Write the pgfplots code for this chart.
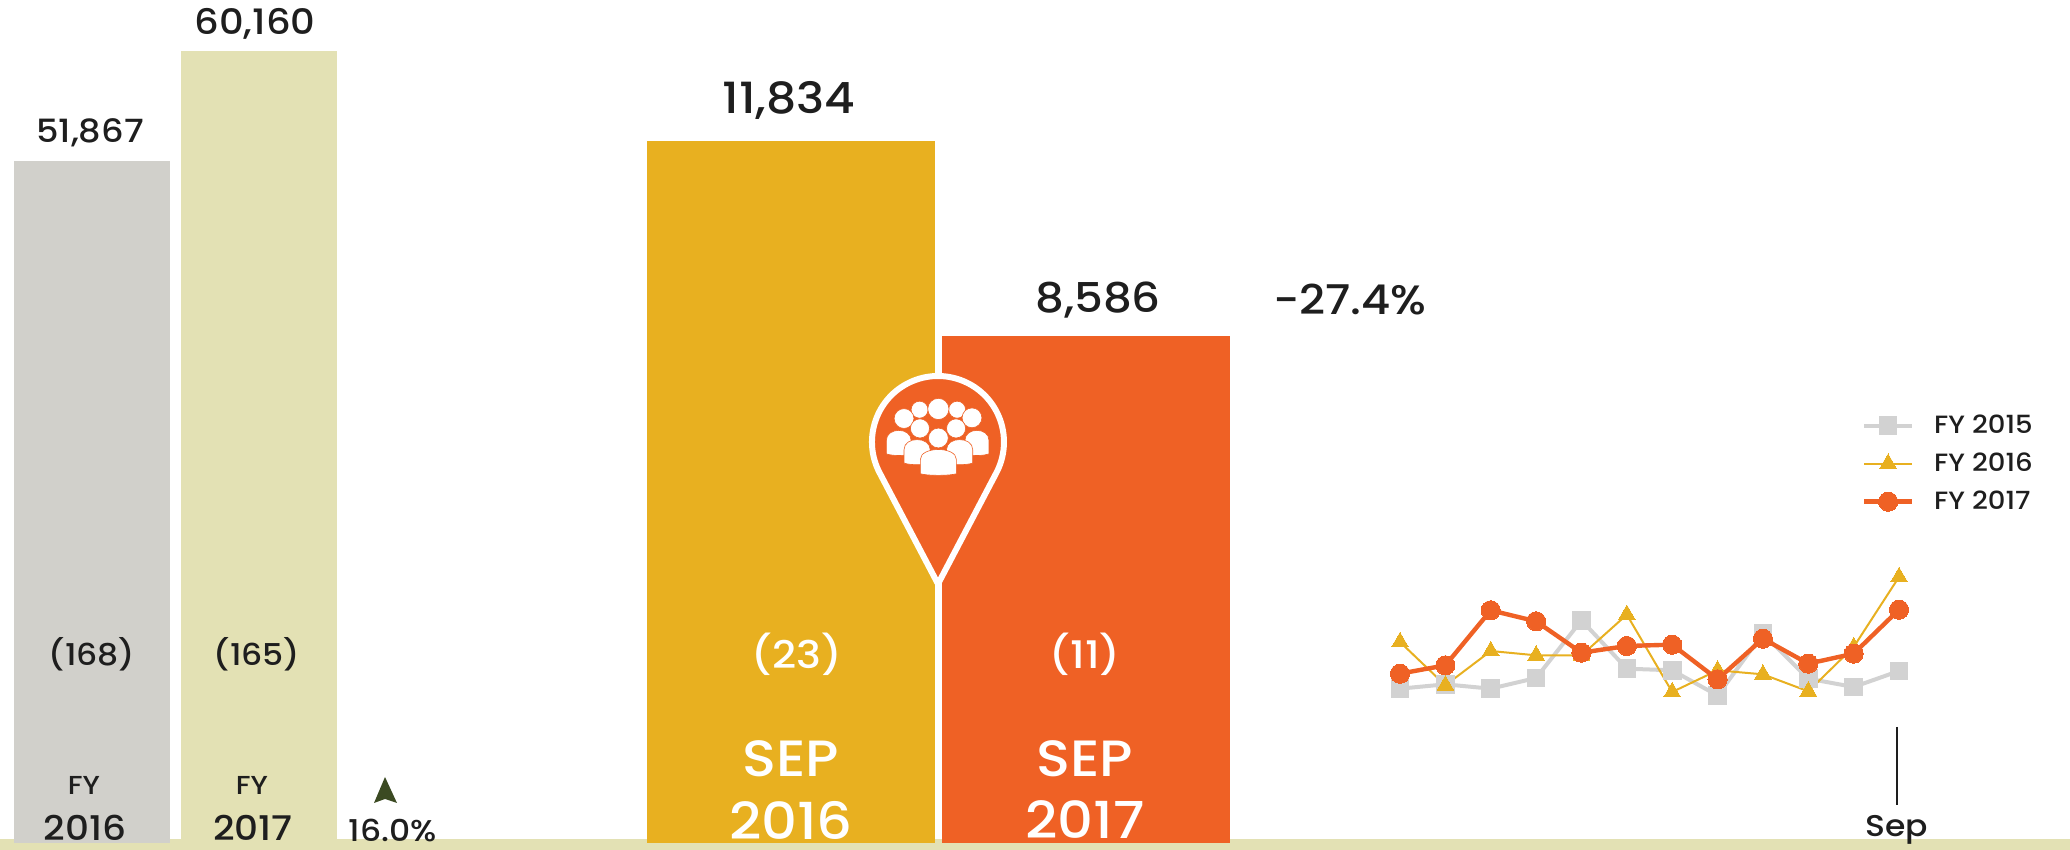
\documentclass[border=0pt]{standalone}
\usepackage{pgfplots}
\pgfplotsset{compat=1.18}
\usepackage{fontspec}
\setmainfont{Poppins}[UprightFont=* Medium,FakeStretch=1.1]
\definecolor{cgray}{HTML}{D1D0CB}
\definecolor{cpale}{HTML}{E3E1B4}
\definecolor{cgold}{HTML}{E8B020}
\definecolor{corange}{HTML}{EF6125}
\definecolor{clgray}{HTML}{D2D2D2}
\definecolor{ctext}{HTML}{1E1E1E}
\pgfplotsset{base/.style={scale only axis,hide axis,clip=false,ymin=0}}
\newcommand{\T}[4]{\node[text=#4,inner sep=0pt,anchor=center] at (#1,850-#2) {#3};}
\begin{document}
\begin{tikzpicture}[x=0.5pt,y=0.5pt]
\path[use as bounding box] (0,0) rectangle (2070,850);
\fill[cpale] (0,0) rectangle (2070,11);
% FY totals
\begin{axis}[base,at={(4.25pt,0pt)},anchor=south west,width=167pt,height=399.5pt,xmin=-0.5,xmax=1.5,ymax=60160]
\addplot[ybar,bar width=78pt,bar shift=0pt,fill=cgray,draw=none] coordinates {(0,51867)};
\addplot[ybar,bar width=78pt,bar shift=0pt,fill=cpale,draw=none] coordinates {(1,60160)};
\end{axis}
% September bars
\begin{axis}[base,at={(321.6pt,0pt)},anchor=south west,width=295.5pt,height=354.5pt,xmin=-0.5,xmax=1.5,ymax=11834]
\addplot[ybar,bar width=144pt,bar shift=0pt,fill=cgold,draw=none] coordinates {(0,11834)};
\addplot[ybar,bar width=144pt,bar shift=0pt,fill=corange,draw=none] coordinates {(1,8586)};
\end{axis}
\fill[cpale] (0,0) rectangle (2070,7);
% Monthly lines
\begin{axis}[base,at={(700pt,77pt)},anchor=south west,width=249.5pt,height=60.35pt,xmin=0,xmax=11,ymax=12000,
  legend image code/.code={\draw[mark repeat=2,mark phase=2,#1] plot coordinates {(0cm,0cm)(0.42cm,0cm)(0.84cm,0cm)};},
  legend style={draw=none,fill=none,font=\fontsize{12.5}{14}\selectfont\color{ctext},
    at={(rel axis cs:0.925,2.35)},anchor=north west,row sep=6.2pt,inner sep=0pt,nodes={inner sep=1pt},
    /tikz/every odd column/.append style={column sep=9pt}},
  legend cell align=left]
\addplot[clgray,line width=2pt,mark=square*,mark size=4.4pt,mark options={fill=clgray,draw=clgray,line width=0pt}] coordinates
 {(0,729)(1,1160)(2,729)(3,1790)(4,7523)(5,2717)(6,2552)(7,50)(8,6197)(9,1723)(10,895)(11,2486)};
\addlegendentry{FY 2015}
\addplot[cgold,line width=1pt,mark=triangle*,mark size=4.8pt,mark options={fill=cgold,draw=cgold,line width=0pt}] coordinates
 {(0,5369)(1,1060)(2,4474)(3,4043)(4,4043)(5,8086)(6,398)(7,2552)(8,2154)(9,464)(10,4872)(11,11834)};
\addlegendentry{FY 2016}
\addplot[corange,line width=2.2pt,mark=*,mark size=4.8pt,mark options={fill=corange,draw=corange,line width=0pt}] coordinates
 {(0,2220)(1,3049)(2,8517)(3,7423)(4,4308)(5,4971)(6,5104)(7,1657)(8,5700)(9,3215)(10,4209)(11,8586)};
\addlegendentry{FY 2017}
\end{axis}
% tick
\draw[ctext,line width=0.8pt] (1897,850-727) -- (1897,850-805);
% pin
\begin{scope}[shift={(938,850-442)}]
\draw[white,line width=3pt,fill=corange,miter limit=3] (0,-142) -- (-58.3,-31)
 arc[start angle=208,end angle=-28,radius=66] -- cycle;
\end{scope}
\begin{scope}[shift={(938,850-438)},x=0.177pt,y=-0.177pt,shift={(-414,-295)}]
\def\head#1#2#3{\fill[white,draw=corange,line width=0.3pt] (#1,#2) circle[radius=#3];}
\def\body#1#2#3#4{\fill[white,draw=corange,line width=0.3pt] (#1,#4) -- (#1,#3+30) .. controls (#1,#3-8) and (#2,#3-8) .. (#2,#3+30) -- (#2,#4) .. controls (#2-20,#4+6) and (#1+20,#4+6) .. cycle;}
\head{362}{215}{24}\head{468}{215}{24}\head{415}{213}{30}
\head{318}{240}{28}\head{510}{238}{28}
\body{268}{338}{272}{340}\body{490}{558}{272}{340}
\head{363}{268}{27}\head{465}{268}{27}
\body{318}{392}{298}{366}\body{438}{512}{298}{366}
\head{415}{295}{28}
\body{364}{466}{326}{396}
\end{scope}
% arrow
\definecolor{carrow}{HTML}{3B4A22}
\fill[carrow] (374,850-803) -- (385,850-777) -- (397,850-803) -- (385,850-799) -- cycle;
% text
\fontsize{16}{19}\selectfont
\T{90}{133}{51,867}{ctext}
\fontsize{15}{18}\selectfont
\T{92}{654}{(168)}{ctext}
\T{257}{654}{(165)}{ctext}
\fontsize{17.5}{20}\selectfont
\T{255}{24}{60,160}{ctext}
\fontsize{13}{15}\selectfont
\T{84}{785}{FY}{ctext}
\T{252}{785}{FY}{ctext}
\fontsize{17}{20}\selectfont
\T{85}{828}{2016}{ctext}
\T{253}{828}{2017}{ctext}
\fontsize{15}{18}\selectfont
\T{393}{830}{16.0\%}{ctext}
\T{1897}{830}{Sep}{ctext}
\fontsize{20.5}{24}\selectfont
\T{1098}{300}{8,586}{ctext}
\T{1350}{300}{-27.4\%}{ctext}
\fontsize{21.5}{26}\selectfont
\T{789}{100}{11,834}{ctext}
\fontsize{19}{24}\selectfont
\T{797}{654}{(23)}{white}
\T{1085}{654}{(11)}{white}
\fontsize{25.5}{30}\selectfont
\T{791}{759}{SEP}{white}
\T{791}{820}{2016}{white}
\T{1085}{759}{SEP}{white}
\T{1085}{820}{2017}{white}
\end{tikzpicture}
\end{document}
